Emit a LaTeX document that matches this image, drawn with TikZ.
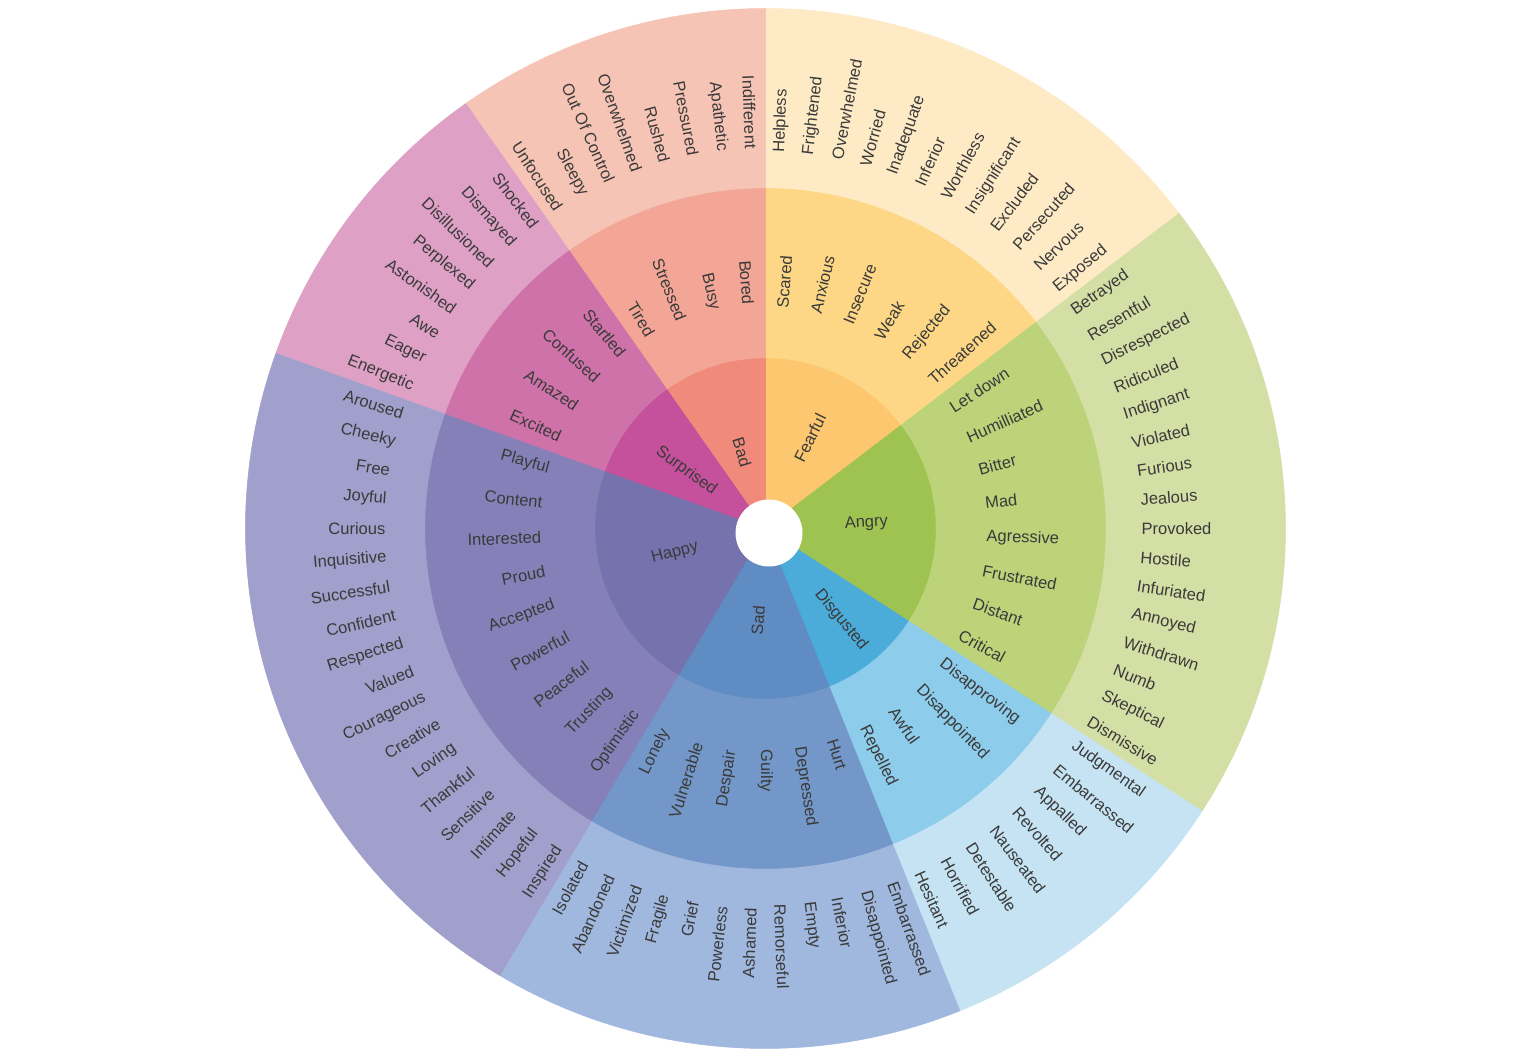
\documentclass[tikz,border=0pt]{standalone}
\usepackage{fontspec}
\setmainfont{Liberation Sans}
\usetikzlibrary{calc}
% sector colours: O = outer ring, M = middle ring, I = inner ring
\definecolor{fearO}{HTML}{FEEBC6}\definecolor{fearM}{HTML}{FDD785}\definecolor{fearI}{HTML}{FCC76E}
\definecolor{angryO}{HTML}{D4DFA5}\definecolor{angryM}{HTML}{BDD37A}\definecolor{angryI}{HTML}{9FC350}
\definecolor{disgO}{HTML}{C5E3F3}\definecolor{disgM}{HTML}{8DCCEA}\definecolor{disgI}{HTML}{4BABD9}
\definecolor{sadO}{HTML}{A0B7DE}\definecolor{sadM}{HTML}{7297C8}\definecolor{sadI}{HTML}{5F8CC3}
\definecolor{happyO}{HTML}{A19FCB}\definecolor{happyM}{HTML}{8581B8}\definecolor{happyI}{HTML}{7672AD}
\definecolor{surpO}{HTML}{DEA0C5}\definecolor{surpM}{HTML}{CF72A9}\definecolor{surpI}{HTML}{C5509B}
\definecolor{badO}{HTML}{F6C4B5}\definecolor{badM}{HTML}{F3A696}\definecolor{badI}{HTML}{F08A7B}
\definecolor{txtc}{HTML}{3A3A3A}
\begin{document}
\begin{tikzpicture}[x=1pt,y=1pt,
  lbl/.style={font=\fontsize{16.5}{18}\selectfont, text=txtc, inner sep=0pt}]
\useasboundingbox (0,0) rectangle (1536,1060);
\fill[white] (0,0) rectangle (1536,1060);
\coordinate (C) at (765.5,531.5);
\def\dstep{4.3902439}
% rings: outer, middle, inner wedges
\foreach \rad/\ring in {520/O,340/M,170/I}{
  \foreach \ka/\kb/\cname in {0/12/fear,12/28/angry,28/36/disg,36/48/sad,48/66/happy,66/74/surp,74/82/bad}{
    \pgfmathsetmacro\angA{90-\ka*\dstep}
    \pgfmathsetmacro\angB{90-\kb*\dstep}
    \fill[\cname\ring, draw=\cname\ring, line width=0.5pt, line join=round]
      (C) -- ([shift={(\angA:\rad)}]C) arc[start angle=\angA, end angle=\angB, radius=\rad] -- cycle;
  }
}
% central hole
\fill[white] ([shift={(3.5,-4.5)}]C) circle[radius=33.5];
% outer ring words
\foreach \w [count=\k from 0] in {Helpless, Frightened, Overwhelmed, Worried, Inadequate, Inferior, Worthless, Insignificant, Excluded, Persecuted, Nervous, Exposed,
  Betrayed, Resentful, Disrespected, Ridiculed, Indignant, Violated, Furious, Jealous, Provoked, Hostile, Infuriated, Annoyed, Withdrawn, Numb, Skeptical, Dismissive,
  Judgmental, Embarrassed, Appalled, Revolted, Nauseated, Detestable, Horrified, Hesitant,
  Embarrassed, Disappointed, Inferior, Empty, Remorseful, Ashamed, Powerless, Grief, Fragile, Victimized, Abandoned, Isolated,
  Inspired, Hopeful, Intimate, Sensitive, Thankful, Loving, Creative, Courageous, Valued, Respected, Confident, Successful, Inquisitive, Curious, Joyful, Free, Cheeky, Aroused,
  Energetic, Eager, Awe, Astonished, Perplexed, Disillusioned, Dismayed, Shocked,
  Unfocused, Sleepy, Out Of Control, Overwhelmed, Rushed, Pressured, Apathetic, Indifferent}{
  \pgfmathsetmacro\ang{90-(\k+0.5)*\dstep}
  \ifdim\ang pt>-91pt
    \node[lbl, anchor=west, rotate=\ang] (o\k) at ([shift={(\ang:376)}]C) {\w};
  \else
    \node[lbl, anchor=east, rotate=\ang+180] (o\k) at ([shift={(\ang:380)}]C) {\w};
  \fi
}
% middle ring words
\foreach \w [count=\j from 0] in {Scared, Anxious, Insecure, Weak, Rejected, Threatened,
  Let down, Humilliated, Bitter, Mad, Agressive, Frustrated, Distant, Critical,
  Disapproving, Disappointed, Awful, Repelled,
  Hurt, Depressed, Guilty, Despair, Vulnerable, Lonely,
  Optimistic, Trusting, Peaceful, Powerful, Accepted, Proud, Interested, Content, Playful,
  Excited, Amazed, Confused, Startled,
  Tired, Stressed, Busy, Bored}{
  \pgfmathsetmacro\ang{90-(\j+0.5)*2*\dstep}
  \ifdim\ang pt>-91pt
    \node[lbl, anchor=west, rotate=\ang] (m\j) at ([shift={(\ang:221)}]C) {\w};
  \else
    \node[lbl, anchor=east, rotate=\ang+180] (m\j) at ([shift={(\ang:224.5)}]C) {\w};
  \fi
}
% inner ring words
\node[lbl, rotate=63.8]  (iFearful)   at ([shift={(63.8:100.8)}]C) {Fearful};
\node[lbl, rotate=3.1]   (iAngry)     at ([shift={(3.1:101)}]C) {Angry};
\node[lbl, rotate=-50.5] (iDisgusted) at ([shift={(-50.5:118.6)}]C) {Disgusted};
\node[lbl, rotate=85.3]  (iSad)       at ([shift={(-94.7:91.9)}]C) {Sad};
\node[lbl, rotate=15.1]  (iHappy)     at ([shift={(195.1:93.8)}]C) {Happy};
\node[lbl, rotate=-35.9] (iSurprised) at ([shift={(144.1:98)}]C) {Surprised};
\node[lbl, rotate=-72.9] (iBad)       at ([shift={(107.1:80)}]C) {Bad};
\end{tikzpicture}
\end{document}
